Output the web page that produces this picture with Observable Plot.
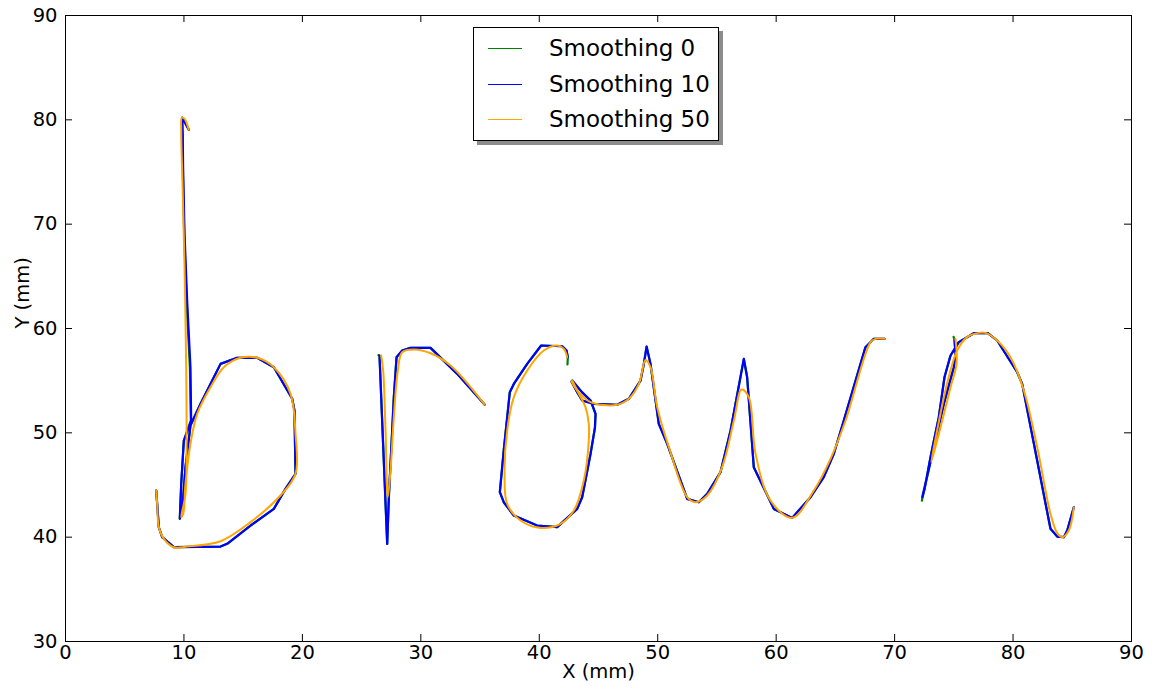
<!DOCTYPE html>
<html>
<head>
<meta charset="utf-8">
<script src="https://cdn.jsdelivr.net/npm/d3@7"></script>
<script src="https://cdn.jsdelivr.net/npm/@observablehq/plot@0.6"></script>
<style>
  body { margin: 0; background: #fff; font-family: "DejaVu Sans", sans-serif; }
  #wrap { position: relative; width: 1157px; height: 691px; }
  .legend { position: absolute; left: 473px; top: 27px; width: 246px; height: 114px;
            border: 1px solid #000; background: #fff; box-shadow: 4px 4px 0 #8c8c8c; box-sizing: border-box; }
  .row { position: absolute; left: 0; height: 0; }
  .row .sw { position: absolute; left: 14px; width: 34px; top: 0; border-top: 1.3px solid; }
  .row span { position: absolute; left: 75px; top: -15px; font-size: 23px; line-height: 30px; white-space: nowrap; color: #000; }
</style>
</head>
<body>
<div id="wrap"></div>
<script>
// Pen strokes of the handwritten word "brown", in millimetres.
// Each series holds five strokes: b, r, o, the o-to-w connection + w, and n.

// Smoothing 0 (raw samples)
const raw_b = [[10.41,79.04],[10.15,79.6],[9.85,80.2],[9.88,78.5],[9.90,75.46],[10.02,69.07],[10.22,62.68],[10.5,56.29],[10.58,51.18],[9.99,49.26],[9.77,45.11],[9.65,41.76],[9.85,42.55],[10.13,46.71],[10.55,50.70],[11.40,52.78],[13.09,56.61],[14.49,57.19],[16.18,57.19],[17.59,56.29],[19.14,53.26],[19.33,52.14],[19.42,46.07],[18.57,44.63],[17.59,42.71],[15.62,41.11],[13.65,39.36],[13.09,39.10],[9.15,39.04],[8.16,40.0],[7.88,40.95],[7.74,43.2],[7.66,44.47]];
const raw_r = [[26.42,57.45],[26.51,57.41],[27.16,39.36],[27.30,43.83],[27.58,50.22],[27.72,53.41],[27.95,57.25],[28.43,57.89],[29.13,58.14],[30.82,58.14],[33.07,55.65],[35.38,52.71]];
const raw_o = [[42.78,55.01],[43.6,53.9],[44.33,53.10],[44.75,51.82],[44.7,50.5],[44.33,47.99],[43.62,43.83],[43.20,42.71],[41.51,40.96],[39.82,41.12],[37.85,42.08],[37.00,43.35],[36.67,44.31],[37.00,48.31],[37.51,53.89],[37.85,54.69],[38.98,56.61],[40.16,58.37],[41.93,58.30],[42.30,57.89],[42.41,57.25],[42.38,56.55]];
const raw_w = [[42.72,54.92],[43.20,53.89],[43.62,53.10],[44.61,52.78],[46.58,52.69],[47.56,53.26],[48.55,55.01],[48.83,56.61],[49.06,58.27],[49.39,56.61],[50.09,50.86],[50.80,48.95],[52.49,43.67],[53.47,43.35],[54.18,44.15],[55.30,46.23],[56.15,50.22],[57.27,57.09],[57.55,55.33],[58.11,46.71],[59.80,42.71],[61.35,41.85],[62.90,43.83],[64.02,45.75],[64.87,47.99],[65.71,51.18],[67.54,58.21],[68.25,59.01],[69.15,59.01]];
const raw_n = [[74.98,59.2],[75.06,58.85],[75.14,57.57],[75.0,56.29],[74.16,52.78],[73.31,48.63],[72.3,43.5],[72.53,44.63],[73.03,47.67],[73.73,51.50],[74.21,55.33],[74.72,57.41],[75.42,58.69],[76.69,59.55],[77.87,59.55],[78.66,58.85],[80.35,55.81],[80.77,54.69],[81.76,48.95],[83.16,40.80],[83.73,40.06],[84.29,40.0],[84.57,40.64],[85.13,42.87]];

// Smoothing 10
const s10_b = [[10.41,79.04],[10.15,79.6],[9.85,80.2],[9.9,78.5],[9.93,75.46],[10.05,69.07],[10.27,62.68],[10.55,56.29],[10.61,51.18],[9.99,49.26],[9.77,45.11],[9.65,41.76],[9.85,42.55],[10.13,46.71],[10.55,50.70],[11.40,52.78],[13.09,56.61],[14.49,57.19],[16.18,57.19],[17.59,56.29],[19.14,53.26],[19.33,52.14],[19.42,46.07],[18.57,44.63],[17.59,42.71],[15.62,41.11],[13.65,39.36],[13.09,39.10],[9.15,39.04],[8.16,40.0],[7.88,40.95],[7.74,43.2],[7.66,44.47]];
const s10_r = [[26.51,57.41],[27.16,39.36],[27.30,43.83],[27.58,50.22],[27.72,53.41],[27.95,57.25],[28.43,57.89],[29.13,58.14],[30.82,58.14],[33.07,55.65],[35.38,52.71]];
const s10_o = [[42.78,55.01],[43.6,53.9],[44.33,53.10],[44.75,51.82],[44.7,50.5],[44.33,47.99],[43.62,43.83],[43.20,42.71],[41.51,40.96],[39.82,41.12],[37.85,42.08],[37.00,43.35],[36.67,44.31],[37.00,48.31],[37.51,53.89],[37.85,54.69],[38.98,56.61],[40.16,58.37],[41.93,58.30],[42.30,57.89],[42.41,57.25]];
const s10_w = [[42.72,54.92],[43.20,53.89],[43.62,53.10],[44.61,52.78],[46.58,52.69],[47.56,53.26],[48.55,55.01],[48.83,56.61],[49.06,58.27],[49.39,56.61],[50.09,50.86],[50.80,48.95],[52.49,43.67],[53.47,43.35],[54.18,44.15],[55.30,46.23],[56.15,50.22],[57.27,57.09],[57.55,55.33],[58.11,46.71],[59.80,42.71],[61.35,41.85],[62.90,43.83],[64.02,45.75],[64.87,47.99],[65.71,51.18],[67.54,58.21],[68.25,59.01],[69.15,59.01]];
const s10_n = [[75.06,58.85],[75.14,57.57],[75.0,56.29],[74.16,52.78],[73.31,48.63],[72.33,43.83],[72.53,44.63],[73.03,47.67],[73.73,51.50],[74.21,55.33],[74.72,57.41],[75.42,58.69],[76.69,59.55],[77.87,59.55],[78.66,58.85],[80.35,55.81],[80.77,54.69],[81.76,48.95],[83.16,40.80],[83.73,40.06],[84.29,40.0],[84.57,40.64],[85.13,42.87]];

// Smoothing 50
const s50_b = [[10.41,79.04],[10.05,80.1],[9.82,80.2],[9.77,78.98],[9.88,73.87],[10.05,65.88],[10.19,56.29],[10.22,49.9],[10.13,44.15],[9.77,41.92],[9.94,42.24],[10.13,45.11],[10.55,48.95],[11.12,51.82],[12.24,54.37],[13.37,56.29],[14.78,57.19],[16.18,57.19],[17.59,56.29],[19.0,53.74],[19.42,49.9],[19.42,46.07],[18.15,43.99],[15.62,41.44],[13.09,39.61],[10.27,39.10],[9.15,39.04],[8.30,39.84],[7.88,40.95],[7.74,43.2],[7.66,44.47]];
const s50_r = [[26.65,57.41],[26.82,55.97],[27.02,50.22],[27.21,43.83],[27.44,46.39],[27.72,51.50],[28.06,55.97],[28.43,57.73],[29.41,57.99],[30.82,57.63],[32.51,56.45],[35.38,52.71]];
const s50_o = [[42.78,55.01],[43.34,53.74],[43.90,52.46],[44.18,50.86],[44.18,49.26],[43.76,45.43],[42.92,42.55],[41.79,41.28],[40.10,40.89],[38.42,41.60],[37.29,43.20],[37.07,46.07],[37.29,50.22],[37.85,53.41],[38.98,55.97],[40.38,57.89],[41.51,58.37],[42.07,58.05],[42.36,57.25]];
const s50_w = [[42.72,54.92],[43.20,54.06],[44.33,52.94],[46.58,52.69],[47.56,53.26],[48.41,54.69],[48.97,56.99],[49.39,56.29],[49.96,52.46],[50.94,48.63],[52.49,43.83],[53.19,43.35],[54.18,43.99],[55.44,46.71],[56.43,51.18],[57.08,54.15],[57.69,53.42],[58.26,47.99],[59.52,43.51],[61.35,41.85],[63.18,44.47],[64.59,47.51],[65.86,51.18],[67.97,58.69],[68.39,59.01],[69.15,59.01]];
const s50_n = [[75.14,59.01],[75.23,56.61],[74.72,54.37],[73.88,50.54],[73.09,47.19],[73.59,50.22],[74.16,53.41],[74.72,55.97],[75.28,57.89],[76.12,59.17],[77.11,59.58],[77.67,59.58],[78.66,58.85],[79.78,57.25],[80.91,54.06],[82.04,48.63],[83.16,42.24],[83.73,40.38],[84.15,40.0],[84.71,40.64],[85.13,42.87]];

const seriesNames = ["Smoothing 0", "Smoothing 10", "Smoothing 50"];
const seriesColors = ["#008000", "#0000ff", "#ffa500"];
const xTicks = [0, 10, 20, 30, 40, 50, 60, 70, 80, 90];
const yTicks = [30, 40, 50, 60, 70, 80, 90];

// Flatten strokes into rows {stroke, x, y}
function rows(strokes) {
  return strokes.flatMap((pts, i) => pts.map(([x, y]) => ({stroke: i, x, y})));
}
const rows0 = rows([raw_b, raw_r, raw_o, raw_w, raw_n]);
const rows10 = rows([s10_b, s10_r, s10_o, s10_w, s10_n]);
const rows50 = rows([s50_b, s50_r, s50_o, s50_w, s50_n]);

const W = 1157, H = 691;
const mL = 65, mR = 26, mT = 15, mB = 50;
const innerW = W - mL - mR, innerH = H - mT - mB;
const tickLen = 7;

const chart = Plot.plot({
  width: W, height: H,
  marginLeft: mL, marginRight: mR, marginTop: mT, marginBottom: mB,
  x: {domain: [0, 90]},
  y: {domain: [30, 90]},
  style: {fontFamily: "DejaVu Sans, sans-serif", fontSize: "19.5px", background: "#fff", color: "#000"},
  marks: [
    Plot.line(rows0, {x: "x", y: "y", z: "stroke", stroke: seriesColors[0], strokeWidth: 2.2}),
    Plot.line(rows10, {x: "x", y: "y", z: "stroke", stroke: seriesColors[1], strokeWidth: 2.2}),
    Plot.line(rows50, {x: "x", y: "y", z: "stroke", stroke: seriesColors[2], strokeWidth: 2, curve: "catmull-rom"}),
    Plot.frame({stroke: "#000"}),
    // inward ticks on all four sides
    Plot.tickX(xTicks, {x: d => d, insetTop: innerH - tickLen, stroke: "#000"}),
    Plot.tickX(xTicks, {x: d => d, insetBottom: innerH - tickLen, stroke: "#000"}),
    Plot.tickY(yTicks, {y: d => d, insetRight: innerW - tickLen, stroke: "#000"}),
    Plot.tickY(yTicks, {y: d => d, insetLeft: innerW - tickLen, stroke: "#000"}),
    Plot.axisX({ticks: xTicks, tickSize: 0, tickPadding: 4, label: null, tickFormat: d => String(d)}),
    Plot.axisY({ticks: yTicks, tickSize: 0, tickPadding: 8, label: null, tickFormat: d => String(d)}),
    Plot.text(["X (mm)"], {frameAnchor: "bottom", dy: 36, text: d => d, fontSize: 19.5}),
    Plot.text(["Y (mm)"], {frameAnchor: "left", dx: -43, rotate: -90, text: d => d, fontSize: 19.5})
  ]
});

const wrap = document.getElementById("wrap");
wrap.appendChild(chart);

// Legend box inside the plot area
const legend = document.createElement("div");
legend.className = "legend";
const rowTops = [20, 55.5, 91];
seriesNames.forEach((name, i) => {
  const row = document.createElement("div");
  row.className = "row";
  row.style.top = rowTops[i] + "px";
  const sw = document.createElement("div");
  sw.className = "sw";
  sw.style.borderTopColor = seriesColors[i];
  const label = document.createElement("span");
  label.textContent = name;
  row.appendChild(sw);
  row.appendChild(label);
  legend.appendChild(row);
});
wrap.appendChild(legend);
</script>
</body>
</html>
